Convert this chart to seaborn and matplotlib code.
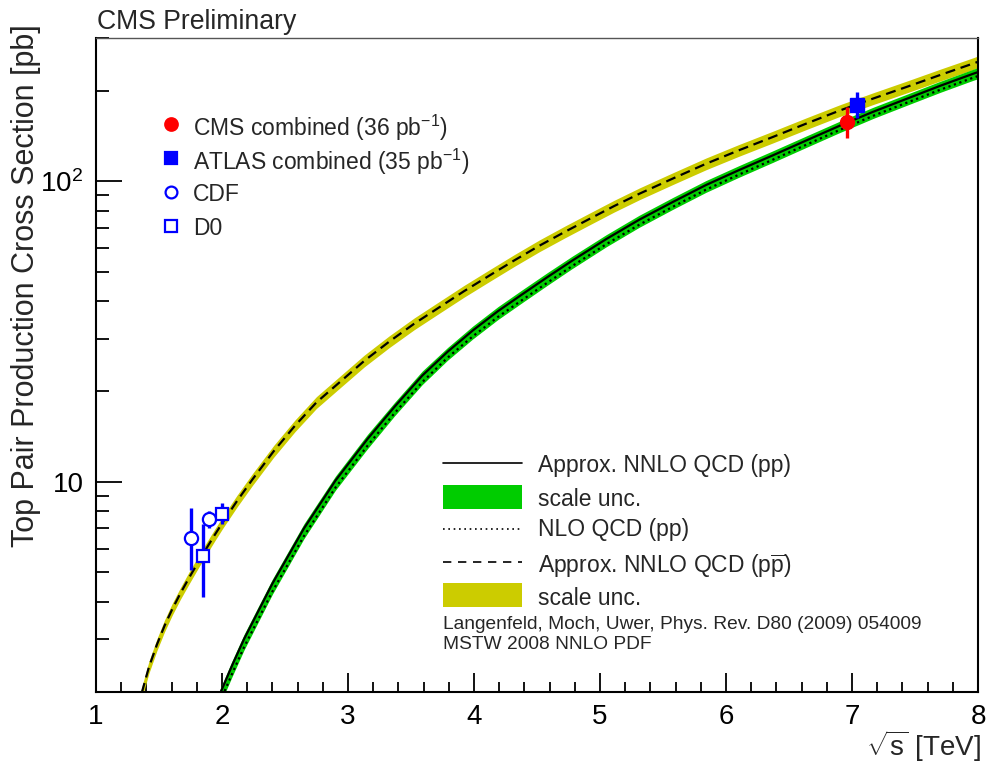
import matplotlib
matplotlib.use("Agg")
import matplotlib.pyplot as plt
from matplotlib.ticker import FixedLocator, FixedFormatter, MultipleLocator, NullFormatter
from matplotlib.lines import Line2D
from matplotlib.patches import Rectangle
import seaborn as sns
import pandas as pd

# ---------------- data ----------------
# pp, approx. NNLO QCD (solid) with scale-uncertainty band (green)
pp_x = [1.95, 1.99, 2.08, 2.175, 2.40, 2.65, 2.90, 3.155, 3.37, 3.59, 3.79, 3.99, 4.19,
        4.39, 4.585, 4.78, 5.05, 5.31, 5.58, 5.84, 6.10, 6.37, 6.64, 6.90, 7.17, 7.43,
        7.70, 7.96, 8.00]
pp_nnlo = [1.82, 2.0, 2.45, 3.0, 4.59, 7.0, 10.1, 13.9, 17.8, 22.6, 27.1, 31.9, 37.0,
           42.3, 48.1, 54.5, 64.3, 74.5, 85.5, 97.2, 108.9, 122.0, 137.0, 153.0, 170.6, 188.0,
           208.0, 228.0, 231.0]
pp_band_hi = [1.88, 2.07, 2.54, 3.11, 4.75, 7.25, 10.45, 14.4, 18.4, 23.4, 28.0, 33.0, 38.3,
              43.8, 49.8, 56.4, 66.5, 77.1, 88.5, 100.6, 112.7, 126.3, 141.8, 158.4, 176.6, 194.6,
              215.3, 236.0, 239.1]
pp_band_lo = [1.68, 1.84, 2.25, 2.76, 4.23, 6.47, 9.38, 12.9, 16.6, 21.1, 25.4, 29.9, 34.7,
              39.7, 45.2, 51.3, 60.6, 70.3, 80.8, 91.9, 103.1, 115.6, 129.9, 145.2, 162.1, 178.8,
              197.8, 216.8, 219.6]
# pp, NLO QCD (dotted)
pp_nlo = [1.71, 1.88, 2.30, 2.82, 4.32, 6.6, 9.57, 13.2, 16.95, 21.5, 25.9, 30.5, 35.4,
          40.5, 46.1, 52.3, 61.8, 71.7, 82.4, 93.8, 105.2, 118.0, 132.6, 148.2, 165.4, 182.4,
          201.8, 221.2, 224.1]

# p-pbar, approx. NNLO QCD (dashed) with scale-uncertainty band (yellow)
ppb_x = [1.30, 1.365, 1.42, 1.484, 1.545, 1.606, 1.67, 1.739, 1.80, 1.871, 1.94, 2.003, 2.12,
         2.242, 2.41, 2.58, 2.75, 2.93, 3.13, 3.327, 3.525, 3.724, 3.92, 4.122, 4.32, 4.519,
         4.72, 4.916, 5.11, 5.313, 5.58, 5.842, 6.10, 6.371, 6.64, 6.901, 7.17, 7.43, 7.70,
         7.96, 8.00]
ppb_nnlo = [1.575, 2.0, 2.42, 2.88, 3.33, 3.78, 4.26, 4.80, 5.31, 5.96, 6.64, 7.31, 8.65,
            10.2, 12.65, 15.4, 18.4, 21.4, 25.3, 29.3, 33.6, 38.1, 43.1, 48.6, 54.6, 61.1,
            67.9, 75.0, 82.7, 91.0, 102.3, 114.5, 126.8, 140.5, 155.9, 172.0, 188.8, 206.0, 226.0,
            246.6, 250.0]
ppb_band_hi = [1.65, 2.09, 2.53, 3.01, 3.48, 3.95, 4.45, 5.02, 5.55, 6.23, 6.94, 7.64, 9.04,
               10.66, 13.22, 16.09, 19.23, 22.36, 26.44, 30.62, 35.11, 39.81, 45.04, 50.79, 57.06,
               63.85, 70.96, 78.38, 86.42, 95.10, 106.9, 119.65, 132.5, 146.8, 162.9, 179.7,
               197.3, 215.3, 236.2, 257.7, 261.3]
ppb_band_lo = [1.50, 1.91, 2.31, 2.75, 3.18, 3.61, 4.07, 4.58, 5.07, 5.69, 6.34, 6.98, 8.26,
               9.74, 12.08, 14.71, 17.57, 20.44, 24.16, 27.98, 32.09, 36.39, 41.16, 46.41, 52.14,
               58.35, 64.84, 71.63, 78.98, 86.91, 97.7, 109.35, 121.1, 134.2, 148.9, 164.3,
               180.3, 196.7, 215.8, 235.5, 238.8]

# measurements (x positions as displayed)
cms_x, cms_y, cms_err = [6.96], [158.0], [19.0]
atlas_x, atlas_y, atlas_err = [7.04], [180.0], [18.0]
cdf_x, cdf_y = [1.75, 1.90], [6.5, 7.5]
cdf_err_lo, cdf_err_hi = [1.4, 0.5], [1.7, 0.5]
d0_x, d0_y = [1.85, 2.00], [5.69, 7.8]
d0_err_lo, d0_err_hi = [1.55, 0.55], [1.56, 0.7]

y_major = [10, 100]
y_major_labels = ["10", "10$^{2}$"]
y_minor = [2, 3, 4, 5, 6, 7, 8, 9, 20, 30, 40, 50, 60, 70, 80, 90, 200, 300]
x_major = [1, 2, 3, 4, 5, 6, 7, 8]

GREEN = "#00CC00"
YELLOW = "#CCCC00"
BLUE = "#0000FF"
RED = "#FF0000"

# ---------------- style ----------------
sns.set_theme(style="ticks")
plt.rcParams["font.family"] = ["Liberation Sans", "DejaVu Sans"]
plt.rcParams["mathtext.fontset"] = "custom"
plt.rcParams["mathtext.rm"] = "Liberation Sans"
plt.rcParams["mathtext.it"] = "Liberation Sans:italic"
plt.rcParams["mathtext.bf"] = "Liberation Sans:bold"

W, H = 986, 763
fig = plt.figure(figsize=(W / 100, H / 100), dpi=100)
L, R, T, B = 96, 978, 38, 692
ax = fig.add_axes([L / W, 1 - B / H, (R - L) / W, (B - T) / H])


def fx(px):
    return px / W


def fy(py):
    return 1 - py / H


# bands
ax.fill_between(ppb_x, ppb_band_lo, ppb_band_hi, color=YELLOW, lw=0, zorder=1)
ax.fill_between(pp_x, pp_band_lo, pp_band_hi, color=GREEN, lw=0, zorder=1)

df_pp = pd.DataFrame({"sqrt_s": pp_x, "nnlo": pp_nnlo, "nlo": pp_nlo})
df_ppb = pd.DataFrame({"sqrt_s": ppb_x, "nnlo": ppb_nnlo})

sns.lineplot(data=df_ppb, x="sqrt_s", y="nnlo", ax=ax, color="black", lw=1.6,
             linestyle=(0, (4.5, 2.6)), sort=False, estimator=None, zorder=3)
sns.lineplot(data=df_pp, x="sqrt_s", y="nlo", ax=ax, color="black", lw=1.6,
             linestyle=(0, (1.0, 1.6)), sort=False, estimator=None, zorder=3)
sns.lineplot(data=df_pp, x="sqrt_s", y="nnlo", ax=ax, color="black", lw=1.6,
             linestyle="-", sort=False, estimator=None, zorder=4)

# measurements
ax.errorbar(cdf_x, cdf_y, yerr=[cdf_err_lo, cdf_err_hi], fmt="none", ecolor=BLUE,
            elinewidth=2.4, capsize=0, zorder=5)
ax.errorbar(d0_x, d0_y, yerr=[d0_err_lo, d0_err_hi], fmt="none", ecolor=BLUE,
            elinewidth=2.4, capsize=0, zorder=5)
ax.plot(cdf_x, cdf_y, "o", ms=9.5, mfc="white", mec=BLUE, mew=1.6, zorder=6)
ax.plot(d0_x, d0_y, "s", ms=9.0, mfc="white", mec=BLUE, mew=1.6, zorder=6)
ax.errorbar(cms_x, cms_y, yerr=cms_err, fmt="o", color=RED, ms=10, elinewidth=2.4,
            capsize=0, zorder=6)
ax.errorbar(atlas_x, atlas_y, yerr=atlas_err, fmt="s", color=BLUE, ms=9.5, elinewidth=2.4,
            capsize=0, zorder=6)

# axes
ax.set_yscale("log")
ax.set_xlim(1, 8)
ax.set_ylim(2, 300)
ax.yaxis.set_major_locator(FixedLocator(y_major))
ax.yaxis.set_major_formatter(FixedFormatter(y_major_labels))
ax.yaxis.set_minor_locator(FixedLocator(y_minor))
ax.yaxis.set_minor_formatter(NullFormatter())
ax.xaxis.set_major_locator(FixedLocator(x_major))
ax.xaxis.set_minor_locator(MultipleLocator(0.2))
ax.set_xlabel("")
ax.set_ylabel("")

ax.tick_params(axis="both", which="both", direction="in", top=False, right=False,
               colors="black", labelsize=20, width=1.3)
ax.tick_params(axis="x", which="major", length=14, pad=9)
ax.tick_params(axis="x", which="minor", length=7)
ax.tick_params(axis="y", which="major", length=19, pad=9)
ax.tick_params(axis="y", which="minor", length=9.5)
for s in ax.spines.values():
    s.set_visible(True)
    s.set_color("black")
    s.set_linewidth(1.5)
ax.spines["top"].set_linewidth(1.0)
ax.spines["top"].set_color("#555555")

# titles / labels
fig.text(fx(97), fy(29), "CMS Preliminary", fontsize=19.2, ha="left", va="baseline")
fig.text(fx(11), fy(24), "Top Pair Production Cross Section [pb]", fontsize=22,
         rotation=90, ha="left", va="top")
fig.text(fx(981), fy(756), r"$\sqrt{\mathrm{s}}$ [TeV]", fontsize=20, ha="right",
         va="baseline")

# legend 1 (measurements)
leg1 = [("o", RED, RED, "CMS combined (36 pb$^{-1}$)", 124),
        ("s", BLUE, BLUE, "ATLAS combined (35 pb$^{-1}$)", 158),
        ("o", "white", BLUE, "CDF", 192),
        ("s", "white", BLUE, "D0", 226)]
for mk, fc, ec, txt, yy in leg1:
    fig.add_artist(Line2D([fx(171)], [fy(yy)], marker=mk, ms=9 if fc != "white" else 8.5,
                          mfc=fc, mec=ec, mew=1.6, ls="none", transform=fig.transFigure))
    fig.text(fx(193), fy(yy), txt, fontsize=16.5, ha="left", va="center_baseline")

# legend 2 (theory)
lx0, lx1, tx = 443, 522, 538
fig.add_artist(Line2D([fx(lx0), fx(lx1)], [fy(463), fy(463)], color="black", lw=1.2,
                      transform=fig.transFigure))
fig.text(fx(tx), fy(463), "Approx. NNLO QCD (pp)", fontsize=16.5, ha="left",
         va="center_baseline")
fig.add_artist(Rectangle((fx(lx0), fy(509)), fx(lx1 - lx0), (509 - 485) / H,
                         color=GREEN, lw=0, transform=fig.transFigure))
fig.text(fx(tx), fy(497), "scale unc.", fontsize=16.5, ha="left", va="center_baseline")
fig.add_artist(Line2D([fx(lx0), fx(lx1)], [fy(529), fy(529)], color="black", lw=1.2,
                      ls=(0, (1, 2.2)), transform=fig.transFigure))
fig.text(fx(tx), fy(527), "NLO QCD (pp)", fontsize=16.5, ha="left", va="center_baseline")
fig.add_artist(Line2D([fx(lx0), fx(lx1)], [fy(562), fy(562)], color="black", lw=1.2,
                      ls=(0, (5, 4)), transform=fig.transFigure))
fig.text(fx(tx), fy(563), r"Approx. NNLO QCD (p$\overline{\mathrm{p}}$)", fontsize=16.5,
         ha="left", va="center_baseline")
fig.add_artist(Rectangle((fx(lx0), fy(607)), fx(lx1 - lx0), (607 - 583) / H,
                         color=YELLOW, lw=0, transform=fig.transFigure))
fig.text(fx(tx), fy(596), "scale unc.", fontsize=16.5, ha="left", va="center_baseline")
fig.text(fx(443), fy(629), "Langenfeld, Moch, Uwer, Phys. Rev. D80 (2009) 054009",
         fontsize=13.8, ha="left", va="baseline")
fig.text(fx(443), fy(649), "MSTW 2008 NNLO PDF", fontsize=13.8, ha="left", va="baseline")

fig.savefig("out.png", dpi=100, facecolor="white")
